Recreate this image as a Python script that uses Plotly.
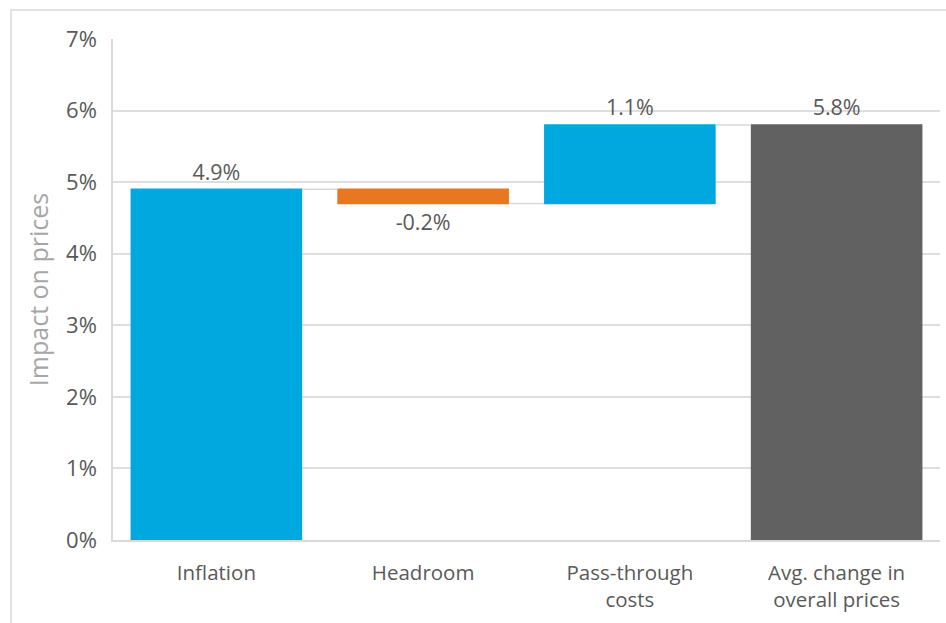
import plotly.graph_objects as go

categories = ["Inflation", "Headroom", "Pass-through<br>costs", "Avg. change in<br>overall prices"]
values = [4.9, -0.2, 1.1, 5.8]
measures = ["relative", "relative", "relative", "total"]
labels = ["4.9%", "-0.2%", "1.1%", "5.8%"]
y_ticks = [0, 1, 2, 3, 4, 5, 6, 7]
y_tick_text = ["0%", "1%", "2%", "3%", "4%", "5%", "6%", "7%"]

FONT = "Open Sans, Noto Sans, sans-serif"
W, H = 946, 623
L, R, T, B = 113, 6, 39, 83

fig = go.Figure(go.Waterfall(
    x=categories,
    y=values,
    measure=measures,
    text=labels,
    textposition="outside",
    textfont=dict(size=21.5, color="#595959", family=FONT),
    increasing=dict(marker=dict(color="#00A8E0")),
    decreasing=dict(marker=dict(color="#E87722")),
    totals=dict(marker=dict(color="#616161")),
    connector=dict(line=dict(color="#d9d9d9", width=1.5), mode="between"),
    cliponaxis=False,
    hoverinfo="skip",
))

pw = W - L - R
ph = H - T - B
fig.add_shape(type="rect", xref="paper", yref="paper",
              x0=(11 - L) / pw, x1=(W + 10 - L) / pw,
              y0=(H - B - (H + 10)) / ph, y1=(H - B - 10) / ph,
              line=dict(color="#d9d9d9", width=1.5), fillcolor="rgba(0,0,0,0)", layer="below")

fig.update_layout(
    width=W, height=H,
    margin=dict(l=L, r=R, t=T, b=B, pad=0),
    paper_bgcolor="white", plot_bgcolor="white",
    showlegend=False,
    waterfallgap=0.17,
    font=dict(family=FONT, color="#595959"),
    xaxis=dict(
        showgrid=False, showline=True, linecolor="#d9d9d9", linewidth=1.5,
        tickfont=dict(size=20.5, color="#595959", family=FONT),
        ticks="", ticklabelstandoff=14,
    ),
    yaxis=dict(
        range=[0, 7], tickvals=y_ticks, ticktext=y_tick_text,
        showgrid=True, gridcolor="#dedede", gridwidth=1.5,
        showline=True, linecolor="#d9d9d9", linewidth=1.5,
        zeroline=False,
        tickfont=dict(size=22, color="#595959", family=FONT),
        ticks="", ticklabelstandoff=10,
        title=dict(text="Impact on prices", font=dict(size=25, color="#a6a6a6", family=FONT), standoff=10),
    ),
)

fig.write_html("out.html")
